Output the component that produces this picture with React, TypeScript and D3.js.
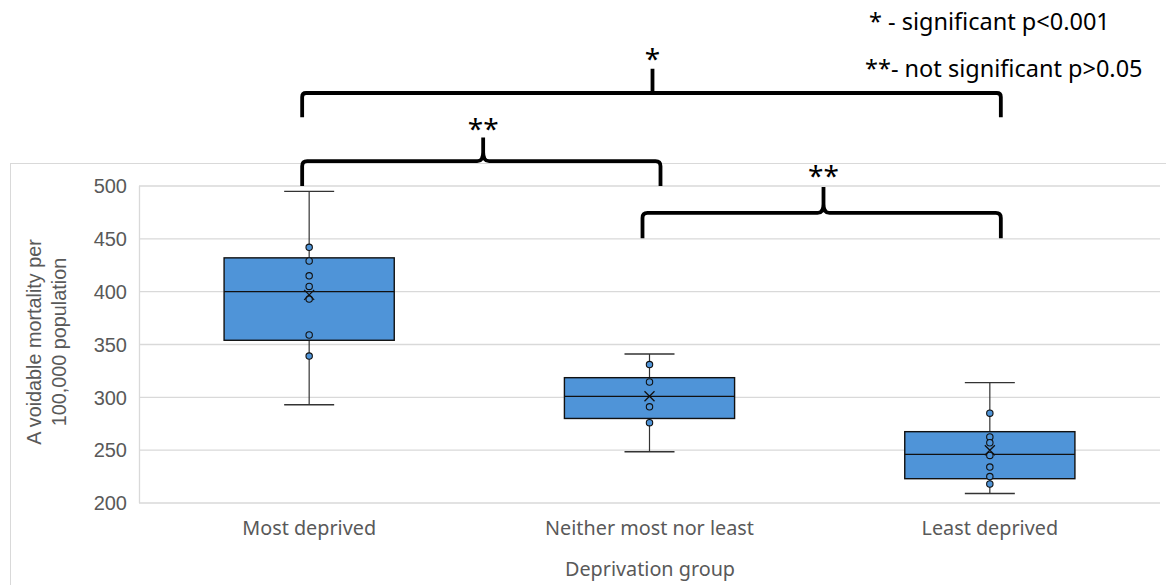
import React from "react";
import * as d3 from "d3";

const categories = ["Most deprived", "Neither most nor least", "Least deprived"];
const mins = [293, 248.5, 209];
const q1s = [354, 280, 223];
const medians = [400, 301, 246];
const q3s = [432, 318.6, 267.5];
const maxs = [495, 341, 314];
const means = [397, 301, 250];
const innerPoints = [
  [442, 429, 415, 405, 393, 359, 339],
  [331, 314.5, 291, 276],
  [285, 262.5, 257, 245, 234, 225, 218],
];
const yTicks = [200, 250, 300, 350, 400, 450, 500];

const W = 1166;
const H = 585;
const BLUE = "#4f94d8";
const GRAY = "#595959";

export default function App() {
  const x = d3
    .scaleBand<string>()
    .domain(categories)
    .range([139, 1160])
    .paddingInner(0.5)
    .paddingOuter(0.25);
  const y = d3.scaleLinear().domain([200, 500]).range([503, 186]);
  const bw = x.bandwidth();
  const cx = (i: number) => (x(categories[i]) as number) + bw / 2;
  const capW = 50;

  const squareBracket = (x0: number, x1: number, yb: number, yh: number, ytop: number, xm: number) => {
    const r = 4;
    return `M${x0},${yb} V${yh + r} Q${x0},${yh} ${x0 + r},${yh} H${x1 - r} Q${x1},${yh} ${x1},${yh + r} V${yb} M${xm},${yh} V${ytop}`;
  };
  const curlyBrace = (x0: number, x1: number, yb: number, yh: number, ytop: number, xm: number) => {
    const r = 5;
    return `M${x0},${yb} V${yh + r} Q${x0},${yh} ${x0 + r},${yh} H${xm - 6} Q${xm},${yh} ${xm},${yh - 9} V${ytop} M${xm},${yh - 9} Q${xm},${yh} ${xm + 6},${yh} H${x1 - r} Q${x1},${yh} ${x1},${yh + r} V${yb}`;
  };

  const c0 = cx(0), c1 = cx(1), c2 = cx(2);

  return (
    <svg
      width={W}
      height={H}
      style={{ position: "absolute", left: 0, top: 0, background: "#fff" }}
    >
      <rect x={10.5} y={163.5} width={1170} height={450} fill="#fff" stroke="#d9d9d9" strokeWidth={1} />
      {yTicks.map((t) => (
        <line key={t} x1={139} x2={1160} y1={y(t)} y2={y(t)} stroke="#d9d9d9" strokeWidth={1.3} />
      ))}
      <line x1={139.5} x2={139.5} y1={y(500)} y2={y(200)} stroke="#d9d9d9" strokeWidth={1.3} />
      {yTicks.map((t) => (
        <text
          key={"l" + t}
          x={127}
          y={y(t)}
          dy="0.36em"
          textAnchor="end"
          fontFamily="Liberation Sans, Arial, sans-serif"
          fontSize={20}
          fill={GRAY}
        >
          {t}
        </text>
      ))}
      <g transform="translate(34,342) rotate(-90)">
        <text x={0} y={0} dy="0.36em" textAnchor="middle" fontFamily="Liberation Sans, Arial, sans-serif" fontSize={19.8} fill={GRAY}>
          A voidable mortality per
        </text>
        <text x={0} y={25} dy="0.36em" textAnchor="middle" fontFamily="Liberation Sans, Arial, sans-serif" fontSize={19.8} fill={GRAY}>
          100,000 population
        </text>
      </g>
      {categories.map((c, i) => (
        <text
          key={c}
          x={cx(i)}
          y={535}
          textAnchor="middle"
          fontFamily="Noto Sans, sans-serif"
          fontSize={19.8}
          fill={GRAY}
        >
          {c}
        </text>
      ))}
      <text x={650} y={576} textAnchor="middle" fontFamily="Noto Sans, sans-serif" fontSize={19.8} fill={GRAY}>
        Deprivation group
      </text>
      {categories.map((c, i) => {
        const xc = cx(i);
        const x0 = x(c) as number;
        return (
          <g key={"b" + c}>
            <line x1={xc} x2={xc} y1={y(maxs[i])} y2={y(q3s[i])} stroke="#333" strokeWidth={1.2} />
            <line x1={xc} x2={xc} y1={y(q1s[i])} y2={y(mins[i])} stroke="#333" strokeWidth={1.2} />
            <line x1={xc - capW / 2} x2={xc + capW / 2} y1={y(maxs[i])} y2={y(maxs[i])} stroke="#333" strokeWidth={1.3} />
            <line x1={xc - capW / 2} x2={xc + capW / 2} y1={y(mins[i])} y2={y(mins[i])} stroke="#333" strokeWidth={1.3} />
            <rect x={x0} y={y(q3s[i])} width={bw} height={y(q1s[i]) - y(q3s[i])} fill={BLUE} stroke="#111" strokeWidth={1.4} />
            <line x1={x0} x2={x0 + bw} y1={y(medians[i])} y2={y(medians[i])} stroke="#111" strokeWidth={1.3} />
            {innerPoints[i].map((p, j) => (
              <circle key={j} cx={xc} cy={y(p)} r={3.2} fill={BLUE} stroke="#111" strokeWidth={1.1} />
            ))}
            <path
              d={`M${xc - 5},${y(means[i]) - 5} L${xc + 5},${y(means[i]) + 5} M${xc - 5},${y(means[i]) + 5} L${xc + 5},${y(means[i]) - 5}`}
              stroke="#111"
              strokeWidth={1.3}
            />
          </g>
        );
      })}
      <g fill="none" stroke="#000" strokeWidth={3.8} strokeLinejoin="round">
        <path d={squareBracket(c0 - 7, c2 + 11, y(565), y(588), y(611), c1 + 3)} />
        <path d={curlyBrace(c0 - 7, c1 + 11, y(500), y(523.5), y(546), c0 + 174)} />
        <path d={curlyBrace(c1 - 7, c2 + 11, y(450.5), y(474.5), y(499), c1 + 174)} />
      </g>
      <g fontFamily="Noto Sans, sans-serif" fill="#000" textAnchor="middle">
        <text x={c1 + 3} y={69} fontSize={28}>*</text>
        <text x={c0 + 174} y={139} fontSize={28}>**</text>
        <text x={c1 + 174} y={186} fontSize={28}>**</text>
      </g>
      <g fontFamily="Noto Sans, sans-serif" fill="#000" fontSize={23.5}>
        <text x={869} y={30}>* - significant p&lt;0.001</text>
        <text x={865} y={77}>**- not significant p&gt;0.05</text>
      </g>
    </svg>
  );
}
